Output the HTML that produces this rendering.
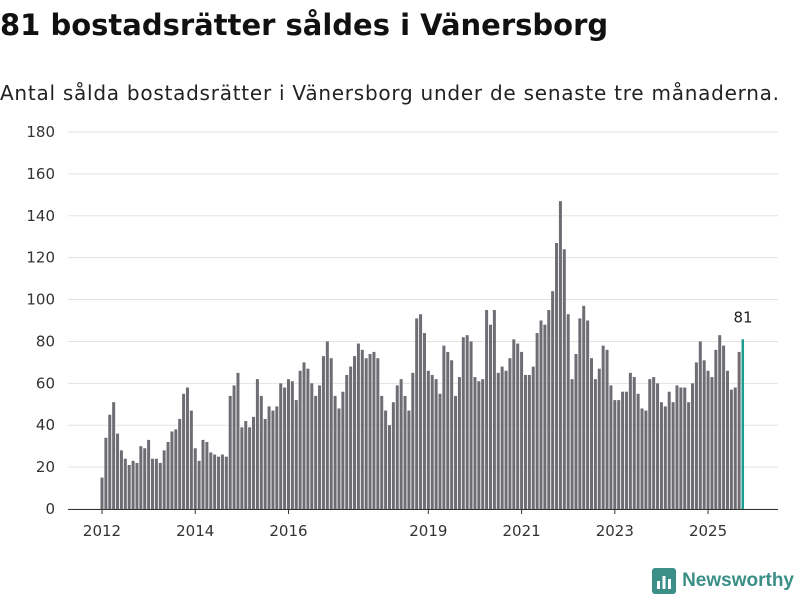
<!DOCTYPE html>
<html><head><meta charset="utf-8"><style>
body{margin:0;width:800px;height:600px;background:#fff;font-family:"DejaVu Sans",sans-serif;overflow:hidden;position:relative}
h1{position:absolute;left:0;top:8px;margin:0;font-size:29px;font-weight:bold;color:#111;white-space:nowrap}
.sub{position:absolute;left:0;top:81px;font-size:20px;color:#222;white-space:nowrap;letter-spacing:0.75px}
.logo{position:absolute;right:6px;top:568px;font-size:19px;font-weight:bold;color:#3b8f86;display:flex;align-items:center;gap:6px;font-family:"Liberation Sans",sans-serif}
</style></head><body>
<h1>81 bostadsrätter såldes i Vänersborg</h1>
<div class="sub">Antal sålda bostadsrätter i Vänersborg under de senaste tre månaderna.</div>
<svg id="chart" width="800" height="600" style="position:absolute;left:0;top:0"></svg>
<div class="logo"><svg width="24" height="26" viewBox="0 0 24 26"><rect x="0" y="0" width="24" height="26" rx="3" fill="#3b8f86"/><rect x="5" y="13" width="3" height="8" fill="#fff"/><rect x="10.5" y="8" width="3" height="13" fill="#fff"/><rect x="16" y="11" width="3" height="10" fill="#fff"/></svg>Newsworthy</div>
<script>
const values=[15,34,45,51,36,28,24,21,23,22,30,29,33,24,24,22,28,32,37,38,43,55,58,47,29,23,33,32,27,26,25,26,25,54,59,65,39,42,39,44,62,54,43,49,47,49,60,58,62,61,52,66,70,67,60,54,59,73,80,72,54,48,56,64,68,73,79,76,72,74,75,72,54,47,40,51,59,62,54,47,65,91,93,84,66,64,62,55,78,75,71,54,63,82,83,80,63,61,62,95,88,95,65,68,66,72,81,79,75,64,64,68,84,90,88,95,104,127,147,124,93,62,74,91,97,90,72,62,67,78,76,59,52,52,56,56,65,63,55,48,47,62,63,60,51,49,56,51,59,58,58,51,60,70,80,71,66,63,76,83,78,66,57,58,75,81];
const yTicks=[0,20,40,60,80,100,120,140,160,180];
const xYears=[2012,2014,2016,2019,2021,2023,2025];
const startYear=2012;
const svg=document.getElementById('chart');
const NS='http://www.w3.org/2000/svg';
const y=v=>509-v*(377/180);
const x=i=>102+i*3.885;
function el(t,a){const e=document.createElementNS(NS,t);for(const k in a)e.setAttribute(k,a[k]);svg.appendChild(e);return e;}
yTicks.forEach(t=>{
 const g=el('line',{x1:68,x2:778,y1:y(t),y2:y(t),stroke:'#e3e3e3','stroke-width':1});
 
 
 const tx=el('text',{x:55,y:y(t)+5,'text-anchor':'end','font-size':15,fill:'#333','font-family':'DejaVu Sans, sans-serif'});
 tx.textContent=t;
 
 
});
values.forEach((v,i)=>{
 const last=i===values.length-1;
 const r=el('rect',{x:x(i)-1.5,y:y(v),width:last?2.5:3,height:509-y(v),fill:last?'#1a9e8f':'#6e6d73'});
 
 
});
const ax=el('line',{x1:68,x2:778,y1:509.5,y2:509.5,stroke:'#333','stroke-width':1});


xYears.forEach(yr=>{
 const px=x((yr-startYear)*12);
 const tk=el('line',{x1:px,x2:px,y1:509,y2:514,stroke:'#333'});
 
 
 const tx=el('text',{x:px,y:536,'text-anchor':'middle','font-size':15,fill:'#333','font-family':'DejaVu Sans, sans-serif'});
 tx.textContent=yr;
 
 
});
const li=values.length-1;
const lb=el('text',{x:x(li),y:y(values[li])-17,'text-anchor':'middle','font-size':15,fill:'#222','font-family':'DejaVu Sans, sans-serif'});
lb.textContent=values[li];


</script>
</body></html>
